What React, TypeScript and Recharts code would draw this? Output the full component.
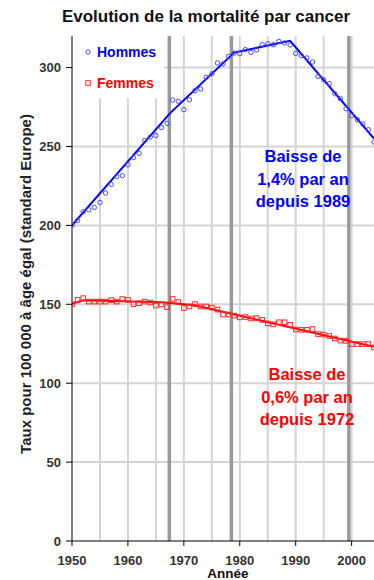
import React from "react";
import { ComposedChart, Line, XAxis, YAxis, ReferenceLine, Label } from "recharts";

const FONT = "'Liberation Sans', Arial, sans-serif";

// Taux standardisés (pour 100 000, standard Europe), 1950-2004
const ANNEES = [
  1950, 1951, 1952, 1953, 1954, 1955, 1956, 1957, 1958, 1959,
  1960, 1961, 1962, 1963, 1964, 1965, 1966, 1967, 1968, 1969,
  1970, 1971, 1972, 1973, 1974, 1975, 1976, 1977, 1978, 1979,
  1980, 1981, 1982, 1983, 1984, 1985, 1986, 1987, 1988, 1989,
  1990, 1991, 1992, 1993, 1994, 1995, 1996, 1997, 1998, 1999,
  2000, 2001, 2002, 2003, 2004,
];

const HOMMES = [
  200.0, 203.1, 208.6, 209.9, 211.4, 214.5, 220.5, 226.0, 231.0, 231.5,
  238.4, 243.0, 245.6, 253.8, 256.0, 257.0, 262.0, 264.6, 279.4, 278.6,
  273.3, 279.6, 285.4, 286.4, 293.8, 296.0, 302.9, 302.3, 307.1, 309.2,
  308.8, 311.4, 309.6, 311.1, 314.5, 315.1, 314.5, 316.6, 315.6, 314.3,
  309.0, 307.5, 306.1, 303.5, 294.4, 292.3, 289.8, 283.4, 280.3, 273.9,
  269.5, 267.0, 264.2, 260.6, 252.8,
];

const FEMMES = [
  150.1, 152.8, 153.9, 151.7, 151.7, 151.7, 151.7, 152.6, 151.7, 153.3,
  152.8, 150.1, 150.7, 151.7, 151.1, 149.2, 149.9, 148.2, 153.4, 151.4,
  147.6, 148.6, 150.1, 148.6, 148.6, 147.9, 146.6, 143.5, 143.5, 142.8,
  141.7, 141.9, 141.0, 141.2, 140.1, 137.9, 137.3, 138.6, 138.6, 137.0,
  134.0, 133.8, 133.8, 134.3, 131.1, 130.8, 129.9, 128.3, 127.0, 126.8,
  124.8, 124.8, 124.8, 124.8, 122.7,
];

// Tendances par régression segmentée (points de rupture)
const HOMMES_TENDANCE_ANS = [1950, 1967.5, 1979, 1989, 2004];
const HOMMES_TENDANCE = [200, 271, 309.5, 317, 255];
const FEMMES_TENDANCE_ANS = [1950, 1952, 1966, 1972, 2004];
const FEMMES_TENDANCE = [150.3, 152.5, 151.3, 149.4, 123];

// Changements de révision de la CIM
const RUPTURES_CIM = [1967.4, 1978.5, 1999.5];

const X_TICKS = [1950, 1960, 1970, 1980, 1990, 2000];
const Y_TICKS = [0, 50, 100, 150, 200, 250, 300];
const GRILLE_ANS = [1955, 1960, 1965, 1970, 1975, 1980, 1985, 1990, 1995, 2000];
const GRILLE_TAUX = [50, 100, 150, 200, 250, 300];

const BLEU = "#0000ff";
const BLEU_POINT = "#4a4aff";
const ROUGE = "#ff0000";
const ROUGE_POINT = "#ff2a2a";

const points = ANNEES.map((annee, i) => ({
  annee,
  hommes: HOMMES[i],
  femmes: FEMMES[i],
}));
const tendanceHommes = HOMMES_TENDANCE_ANS.map((annee, i) => ({ annee, t: HOMMES_TENDANCE[i] }));
const tendanceFemmes = FEMMES_TENDANCE_ANS.map((annee, i) => ({ annee, t: FEMMES_TENDANCE[i] }));

const tickStyle = { fill: "#333", fontSize: 13, fontWeight: 700, fontFamily: FONT };

const Carre = (props: any) => {
  const { cx, cy, index } = props;
  if (cx == null || cy == null) return <g key={index} />;
  return (
    <rect
      key={index}
      x={cx - 2.3}
      y={cy - 2.3}
      width={4.6}
      height={4.6}
      fill="none"
      stroke={ROUGE_POINT}
      strokeWidth={1}
    />
  );
};

const Annotation = ({ lignes, couleur, left, top }: { lignes: string[]; couleur: string; left: number; top: number }) => (
  <div
    style={{
      position: "absolute",
      left,
      top,
      width: 120,
      textAlign: "center",
      color: couleur,
      fontFamily: FONT,
      fontWeight: 700,
      fontSize: 16.5,
      lineHeight: "22.5px",
    }}
  >
    {lignes.map((l) => (
      <div key={l}>{l}</div>
    ))}
  </div>
);

export default function App() {
  return (
    <div style={{ position: "absolute", left: 0, top: 0, width: 374, height: 580, background: "#fff", overflow: "hidden" }}>
      <ComposedChart
        width={374}
        height={580}
        data={points}
        margin={{ top: 36, right: 0, bottom: 0, left: 0 }}
      >
        {GRILLE_ANS.map((a) => (
          <ReferenceLine key={"gx" + a} x={a} stroke="#d4d4d4" strokeWidth={2} />
        ))}
        {GRILLE_TAUX.map((v) => (
          <ReferenceLine key={"gy" + v} y={v} stroke="#d4d4d4" strokeWidth={2} />
        ))}
        {RUPTURES_CIM.map((a) => (
          <ReferenceLine key={"r" + a} x={a} stroke="#9a9a9a" strokeWidth={3.5} />
        ))}
        <XAxis
          dataKey="annee"
          type="number"
          domain={[1950, 2004]}
          ticks={X_TICKS}
          allowDataOverflow
          height={39}
          tick={tickStyle}
          tickSize={5}
          tickMargin={9.5}
          axisLine={{ stroke: "#000" }}
          tickLine={{ stroke: "#000" }}
        >
          <Label
            content={() => (
              <text x={228} y={578} textAnchor="middle" fontFamily={FONT} fontWeight={700} fontSize={13.5} fill="#111">
                Année
              </text>
            )}
          />
        </XAxis>
        <YAxis
          type="number"
          domain={[0, 320]}
          ticks={Y_TICKS}
          allowDataOverflow
          width={72}
          tick={tickStyle}
          tickSize={6}
          tickMargin={5}
          axisLine={{ stroke: "#000" }}
          tickLine={{ stroke: "#000" }}
        >
          <Label
            content={() => (
              <text
                x={25}
                y={284}
                transform="rotate(-90 25 284)"
                textAnchor="middle"
                dominantBaseline="central"
                fontFamily={FONT}
                fontWeight={700}
                fontSize={15}
                fill="#222"
              >
                Taux pour 100 000 à âge égal (standard Europe)
              </text>
            )}
          />
        </YAxis>
        <Line
          dataKey="hommes"
          stroke="none"
          dot={{ r: 2.2, stroke: BLEU_POINT, strokeWidth: 1, fill: "none" }}
          activeDot={false}
          isAnimationActive={false}
        />
        <Line
          dataKey="femmes"
          stroke="none"
          dot={<Carre />}
          activeDot={false}
          isAnimationActive={false}
        />
        <Line
          data={tendanceHommes}
          dataKey="t"
          type="linear"
          stroke={BLEU}
          strokeWidth={2}
          dot={false}
          activeDot={false}
          isAnimationActive={false}
        />
        <Line
          data={tendanceFemmes}
          dataKey="t"
          type="linear"
          stroke={ROUGE}
          strokeWidth={2}
          dot={false}
          activeDot={false}
          isAnimationActive={false}
        />
      </ComposedChart>

      <div
        style={{
          position: "absolute",
          left: 0,
          top: 7,
          width: 412,
          textAlign: "center",
          fontFamily: FONT,
          fontWeight: 700,
          fontSize: 17,
          color: "#111",
        }}
      >
        Evolution de la mortalité par cancer
      </div>

      <div
        style={{
          position: "absolute",
          left: 73,
          top: 36,
          width: 91,
          height: 62,
          background: "#fff",
          fontFamily: FONT,
          fontWeight: 700,
          fontSize: 14,
        }}
      >
        <div style={{ position: "absolute", left: 11, top: 8, color: BLEU, whiteSpace: "nowrap" }}>
          <svg width={10} height={10} style={{ position: "absolute", left: 0, top: 4 }}>
            <circle cx={4} cy={4} r={2.2} fill="none" stroke={BLEU_POINT} strokeWidth={1} />
          </svg>
          <span style={{ marginLeft: 13 }}>Hommes</span>
        </div>
        <div style={{ position: "absolute", left: 11, top: 39, color: ROUGE, whiteSpace: "nowrap" }}>
          <svg width={10} height={10} style={{ position: "absolute", left: 0, top: 4 }}>
            <rect x={1.7} y={1.7} width={4.6} height={4.6} fill="none" stroke={ROUGE_POINT} strokeWidth={1} />
          </svg>
          <span style={{ marginLeft: 13 }}>Femmes</span>
        </div>
      </div>

      <Annotation lignes={["Baisse de", "1,4% par an", "depuis 1989"]} couleur={BLEU} left={243} top={145} />
      <Annotation lignes={["Baisse de", "0,6% par an", "depuis 1972"]} couleur={ROUGE} left={247} top={363} />
    </div>
  );
}
